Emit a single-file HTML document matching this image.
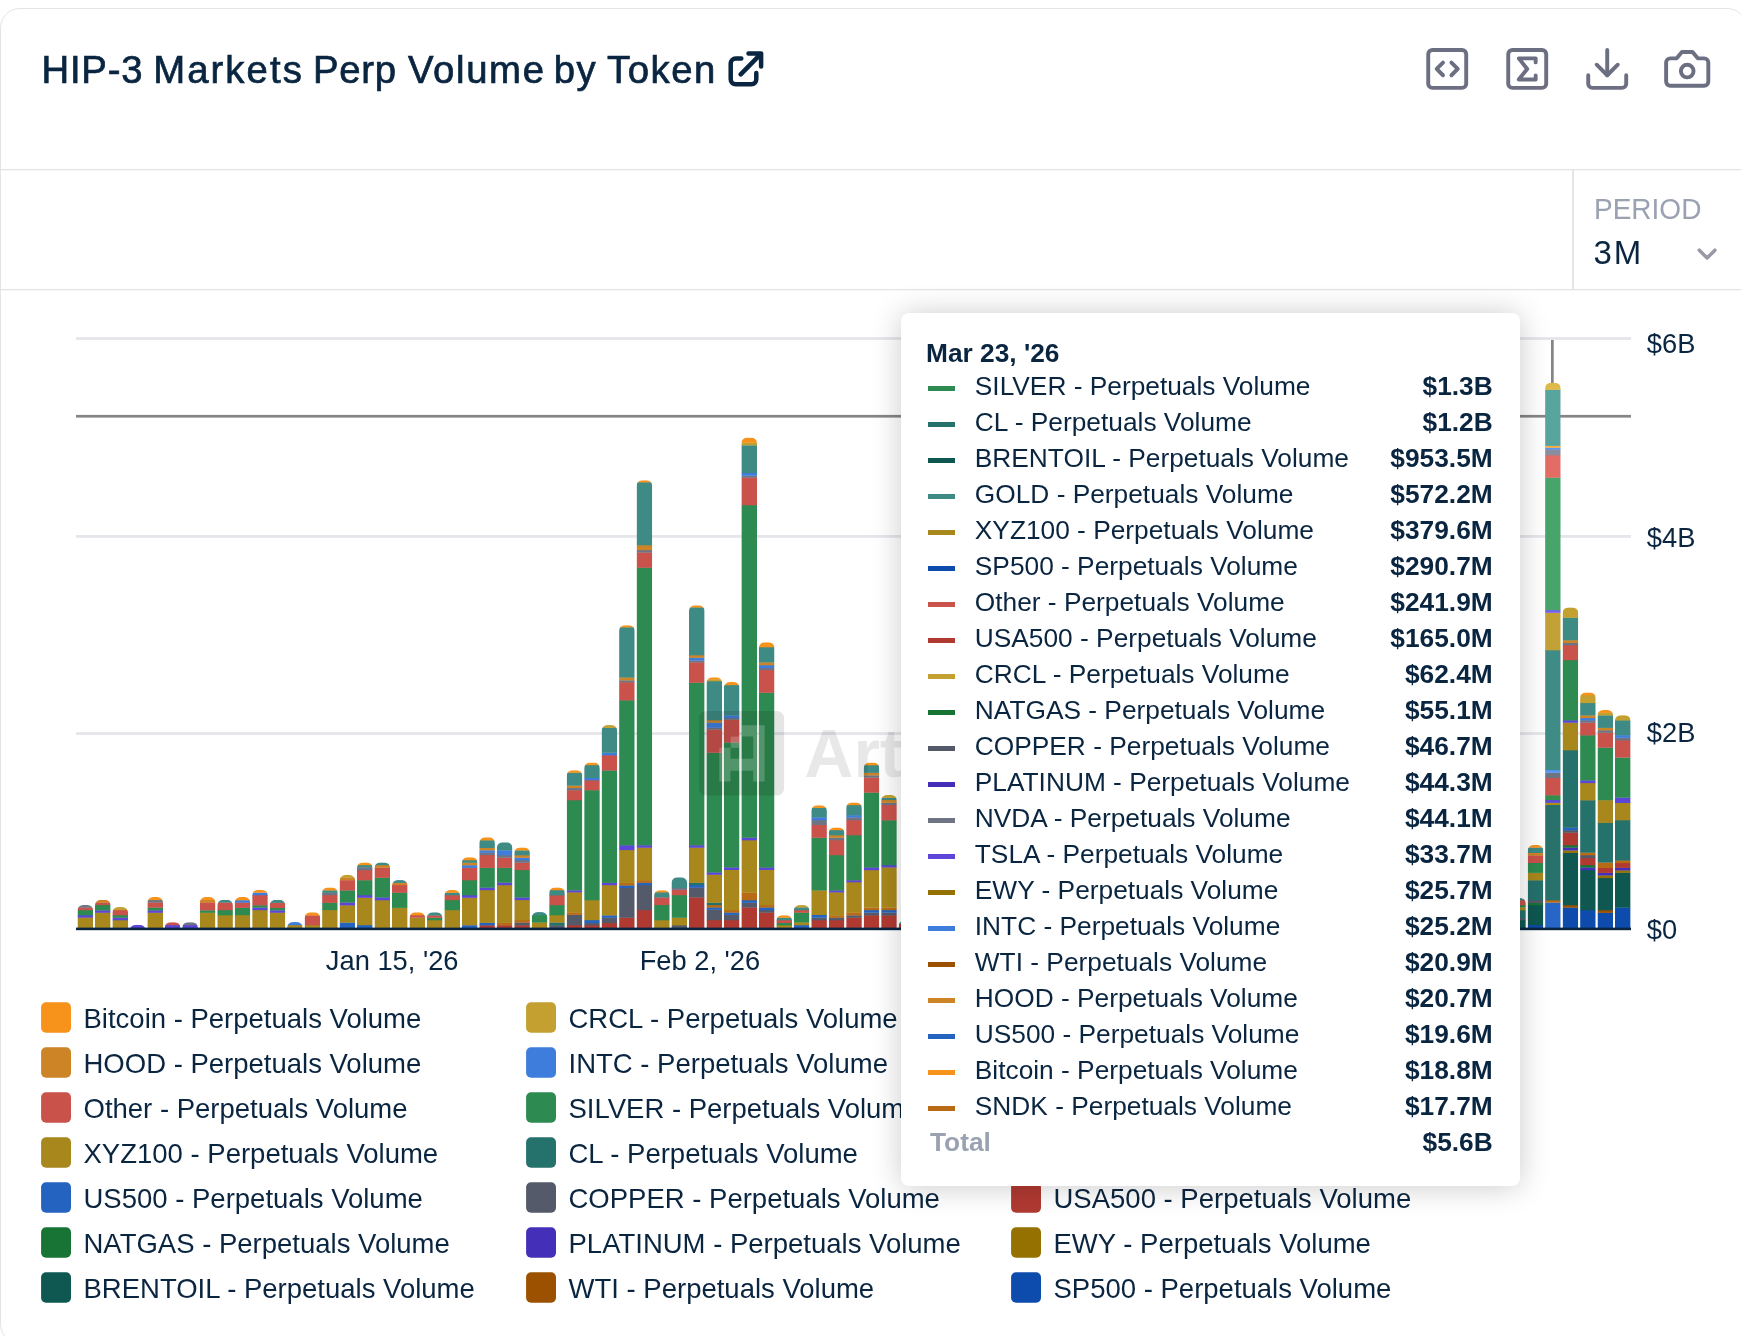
<!DOCTYPE html>
<html lang="en">
<head>
<meta charset="utf-8">
<title>HIP-3 Markets Perp Volume by Token</title>
<style>
*{box-sizing:border-box;margin:0;padding:0}
html,body{width:1741px;height:1336px;overflow:hidden;background:#fff}
body{position:relative;font-family:"Liberation Sans",sans-serif;color:#0a2540}
.card{position:absolute;left:0;top:8px;width:1747px;height:1336px;border:1px solid #e4e4e7;border-radius:20px}
.title{position:absolute;left:0;top:44.5px;width:800px;height:50px;font-size:38.3px;line-height:50px;white-space:nowrap;color:#0a2540;-webkit-text-stroke:0.7px #0a2540}
.title span{position:absolute;top:0}
.period-l{position:absolute;left:1594px;top:192px;transform:scaleY(1.07);font-size:28px;line-height:34px;color:#9aa1b1;white-space:nowrap}
.period-v{position:absolute;left:1593.5px;top:233.5px;font-size:33px;line-height:38px;color:#0a2540;white-space:nowrap;letter-spacing:2px}
#root{position:absolute;left:0;top:0;width:1741px;height:1336px;will-change:transform}
svg.main{position:absolute;left:0;top:0}
.lg{position:absolute;height:30px;display:flex;align-items:center;white-space:nowrap}
.lg i{display:block;width:30px;height:30px;flex:none}
.lg span{font-size:27.5px;line-height:30px;margin-left:12.5px;color:#0a2540;position:relative;top:1px}
.tt{position:absolute;left:901px;top:313px;width:619px;height:873px;background:#fff;border-radius:8px;box-shadow:0 1px 30px rgba(0,0,0,.21)}
.tt .hd{position:absolute;left:25px;top:22px;font-size:26.3px;line-height:36px;font-weight:700;white-space:nowrap}
.tt .rows{position:absolute;left:0;top:55px;width:619px}
.tr{position:relative;height:36px;line-height:36px;font-size:26.3px;white-space:nowrap}
.tr i{position:absolute;left:27px;top:18px;width:26.6px;height:5px;display:block}
.tr .n{position:absolute;left:73.8px;top:0}
.tr b{position:absolute;right:27.3px;top:0;font-weight:700}
.tr.tot .n{left:29px;font-weight:700;color:#9aa1b1}
</style>
</head>
<body>
<div id="root">
<div class="card"></div>
<div class="title"><span style="left:41.5px;letter-spacing:0.77px">HIP-3</span> <span style="left:153.2px;letter-spacing:2.07px">Markets</span> <span style="left:313px;letter-spacing:0.74px">Perp</span> <span style="left:407.9px;letter-spacing:1.67px">Volume</span> <span style="left:553.8px;letter-spacing:1.47px">by</span> <span style="left:607.0px;letter-spacing:1.54px">Token</span> </div>
<div class="period-l">PERIOD</div>
<div class="period-v">3M</div>

<div class="lg" style="left:41px;top:1002.5px"><i></i><span>Bitcoin - Perpetuals Volume</span></div>
<div class="lg" style="left:526px;top:1002.5px"><i></i><span>CRCL - Perpetuals Volume</span></div>
<div class="lg" style="left:1011px;top:1002.5px"><i></i><span>GOLD - Perpetuals Volume</span></div>
<div class="lg" style="left:41px;top:1047.5px"><i></i><span>HOOD - Perpetuals Volume</span></div>
<div class="lg" style="left:526px;top:1047.5px"><i></i><span>INTC - Perpetuals Volume</span></div>
<div class="lg" style="left:1011px;top:1047.5px"><i></i><span>NVDA - Perpetuals Volume</span></div>
<div class="lg" style="left:41px;top:1092.5px"><i></i><span>Other - Perpetuals Volume</span></div>
<div class="lg" style="left:526px;top:1092.5px"><i></i><span>SILVER - Perpetuals Volume</span></div>
<div class="lg" style="left:1011px;top:1092.5px"><i></i><span>TSLA - Perpetuals Volume</span></div>
<div class="lg" style="left:41px;top:1137.5px"><i></i><span>XYZ100 - Perpetuals Volume</span></div>
<div class="lg" style="left:526px;top:1137.5px"><i></i><span>CL - Perpetuals Volume</span></div>
<div class="lg" style="left:1011px;top:1137.5px"><i></i><span>SNDK - Perpetuals Volume</span></div>
<div class="lg" style="left:41px;top:1182.5px"><i></i><span>US500 - Perpetuals Volume</span></div>
<div class="lg" style="left:526px;top:1182.5px"><i></i><span>COPPER - Perpetuals Volume</span></div>
<div class="lg" style="left:1011px;top:1182.5px"><i></i><span>USA500 - Perpetuals Volume</span></div>
<div class="lg" style="left:41px;top:1227.5px"><i></i><span>NATGAS - Perpetuals Volume</span></div>
<div class="lg" style="left:526px;top:1227.5px"><i></i><span>PLATINUM - Perpetuals Volume</span></div>
<div class="lg" style="left:1011px;top:1227.5px"><i></i><span>EWY - Perpetuals Volume</span></div>
<div class="lg" style="left:41px;top:1272.5px"><i></i><span>BRENTOIL - Perpetuals Volume</span></div>
<div class="lg" style="left:526px;top:1272.5px"><i></i><span>WTI - Perpetuals Volume</span></div>
<div class="lg" style="left:1011px;top:1272.5px"><i></i><span>SP500 - Perpetuals Volume</span></div>

<svg class="main" width="1741" height="1336" viewBox="0 0 1741 1336">
<defs>
<clipPath id="c0"><path d="M77.5 930V910.5A5.6 5.6 0 0 1 83.1 904.9H87.5A5.6 5.6 0 0 1 93.1 910.5V930Z"/></clipPath>
<clipPath id="c1"><path d="M95 930V905.4A5.6 5.6 0 0 1 100.6 899.8H105A5.6 5.6 0 0 1 110.6 905.4V930Z"/></clipPath>
<clipPath id="c2"><path d="M112.4 930V912.7A5.6 5.6 0 0 1 118 907.1H122.4A5.6 5.6 0 0 1 128 912.7V930Z"/></clipPath>
<clipPath id="c3"><path d="M129.9 930V930A5.9 5.2 0 0 1 135.8 924.8H139.6A5.9 5.2 0 0 1 145.5 930V930Z"/></clipPath>
<clipPath id="c4"><path d="M147.4 930V902.6A5.6 5.6 0 0 1 153 897H157.4A5.6 5.6 0 0 1 163 902.6V930Z"/></clipPath>
<clipPath id="c5"><path d="M164.8 930V927.8A5.6 5.6 0 0 1 170.4 922.2H174.8A5.6 5.6 0 0 1 180.4 927.8V930Z"/></clipPath>
<clipPath id="c6"><path d="M182.3 930V927.8A5.6 5.6 0 0 1 187.9 922.2H192.3A5.6 5.6 0 0 1 197.9 927.8V930Z"/></clipPath>
<clipPath id="c7"><path d="M199.8 930V902.6A5.6 5.6 0 0 1 205.4 897H209.8A5.6 5.6 0 0 1 215.4 902.6V930Z"/></clipPath>
<clipPath id="c8"><path d="M217.3 930V905.4A5.6 5.6 0 0 1 222.9 899.8H227.3A5.6 5.6 0 0 1 232.9 905.4V930Z"/></clipPath>
<clipPath id="c9"><path d="M234.7 930V902.6A5.6 5.6 0 0 1 240.3 897H244.7A5.6 5.6 0 0 1 250.3 902.6V930Z"/></clipPath>
<clipPath id="c10"><path d="M252.2 930V895.5A5.6 5.6 0 0 1 257.8 889.9H262.2A5.6 5.6 0 0 1 267.8 895.5V930Z"/></clipPath>
<clipPath id="c11"><path d="M269.7 930V905.4A5.6 5.6 0 0 1 275.3 899.8H279.7A5.6 5.6 0 0 1 285.3 905.4V930Z"/></clipPath>
<clipPath id="c12"><path d="M287.1 930V927.7A5.6 5.6 0 0 1 292.7 922.1H297.1A5.6 5.6 0 0 1 302.7 927.7V930Z"/></clipPath>
<clipPath id="c13"><path d="M304.6 930V917.9A5.6 5.6 0 0 1 310.2 912.3H314.6A5.6 5.6 0 0 1 320.2 917.9V930Z"/></clipPath>
<clipPath id="c14"><path d="M322.1 930V893A5.6 5.6 0 0 1 327.7 887.4H332.1A5.6 5.6 0 0 1 337.7 893V930Z"/></clipPath>
<clipPath id="c15"><path d="M339.6 930V880.6A5.6 5.6 0 0 1 345.2 875H349.6A5.6 5.6 0 0 1 355.2 880.6V930Z"/></clipPath>
<clipPath id="c16"><path d="M357 930V868A5.6 5.6 0 0 1 362.6 862.4H367A5.6 5.6 0 0 1 372.6 868V930Z"/></clipPath>
<clipPath id="c17"><path d="M374.5 930V868A5.6 5.6 0 0 1 380.1 862.4H384.5A5.6 5.6 0 0 1 390.1 868V930Z"/></clipPath>
<clipPath id="c18"><path d="M392 930V885.7A5.6 5.6 0 0 1 397.6 880.1H402A5.6 5.6 0 0 1 407.6 885.7V930Z"/></clipPath>
<clipPath id="c19"><path d="M409.5 930V917.9A5.6 5.6 0 0 1 415.1 912.3H419.5A5.6 5.6 0 0 1 425.1 917.9V930Z"/></clipPath>
<clipPath id="c20"><path d="M426.9 930V917.9A5.6 5.6 0 0 1 432.5 912.3H436.9A5.6 5.6 0 0 1 442.5 917.9V930Z"/></clipPath>
<clipPath id="c21"><path d="M444.4 930V895.6A5.6 5.6 0 0 1 450 890H454.4A5.6 5.6 0 0 1 460 895.6V930Z"/></clipPath>
<clipPath id="c22"><path d="M461.9 930V862.8A5.6 5.6 0 0 1 467.5 857.2H471.9A5.6 5.6 0 0 1 477.5 862.8V930Z"/></clipPath>
<clipPath id="c23"><path d="M479.3 930V842.9A5.6 5.6 0 0 1 484.9 837.3H489.3A5.6 5.6 0 0 1 494.9 842.9V930Z"/></clipPath>
<clipPath id="c24"><path d="M496.8 930V847.9A5.6 5.6 0 0 1 502.4 842.3H506.8A5.6 5.6 0 0 1 512.4 847.9V930Z"/></clipPath>
<clipPath id="c25"><path d="M514.3 930V853A5.6 5.6 0 0 1 519.9 847.4H524.3A5.6 5.6 0 0 1 529.9 853V930Z"/></clipPath>
<clipPath id="c26"><path d="M531.8 930V917.7A5.6 5.6 0 0 1 537.4 912.1H541.8A5.6 5.6 0 0 1 547.4 917.7V930Z"/></clipPath>
<clipPath id="c27"><path d="M549.2 930V893A5.6 5.6 0 0 1 554.8 887.4H559.2A5.6 5.6 0 0 1 564.8 893V930Z"/></clipPath>
<clipPath id="c28"><path d="M566.7 930V775.8A5.6 5.6 0 0 1 572.3 770.2H576.7A5.6 5.6 0 0 1 582.3 775.8V930Z"/></clipPath>
<clipPath id="c29"><path d="M584.2 930V768.2A5.6 5.6 0 0 1 589.8 762.6H594.2A5.6 5.6 0 0 1 599.8 768.2V930Z"/></clipPath>
<clipPath id="c30"><path d="M601.6 930V730.7A5.6 5.6 0 0 1 607.2 725.1H611.6A5.6 5.6 0 0 1 617.2 730.7V930Z"/></clipPath>
<clipPath id="c31"><path d="M619.1 930V630.8A5.6 5.6 0 0 1 624.7 625.2H629.1A5.6 5.6 0 0 1 634.7 630.8V930Z"/></clipPath>
<clipPath id="c32"><path d="M636.6 930V485.8A5.6 5.6 0 0 1 642.2 480.2H646.6A5.6 5.6 0 0 1 652.2 485.8V930Z"/></clipPath>
<clipPath id="c33"><path d="M654.1 930V895.8A5.6 5.6 0 0 1 659.7 890.2H664.1A5.6 5.6 0 0 1 669.7 895.8V930Z"/></clipPath>
<clipPath id="c34"><path d="M671.5 930V882.9A5.6 5.6 0 0 1 677.1 877.3H681.5A5.6 5.6 0 0 1 687.1 882.9V930Z"/></clipPath>
<clipPath id="c35"><path d="M689 930V610.9A5.6 5.6 0 0 1 694.6 605.3H699A5.6 5.6 0 0 1 704.6 610.9V930Z"/></clipPath>
<clipPath id="c36"><path d="M706.5 930V682.9A5.6 5.6 0 0 1 712.1 677.3H716.5A5.6 5.6 0 0 1 722.1 682.9V930Z"/></clipPath>
<clipPath id="c37"><path d="M723.9 930V687.6A5.6 5.6 0 0 1 729.5 682H733.9A5.6 5.6 0 0 1 739.5 687.6V930Z"/></clipPath>
<clipPath id="c38"><path d="M741.4 930V443.2A5.6 5.6 0 0 1 747 437.6H751.4A5.6 5.6 0 0 1 757 443.2V930Z"/></clipPath>
<clipPath id="c39"><path d="M758.9 930V647.9A5.6 5.6 0 0 1 764.5 642.3H768.9A5.6 5.6 0 0 1 774.5 647.9V930Z"/></clipPath>
<clipPath id="c40"><path d="M776.4 930V920.8A5.6 5.6 0 0 1 782 915.2H786.4A5.6 5.6 0 0 1 792 920.8V930Z"/></clipPath>
<clipPath id="c41"><path d="M793.8 930V910.7A5.6 5.6 0 0 1 799.4 905.1H803.8A5.6 5.6 0 0 1 809.4 910.7V930Z"/></clipPath>
<clipPath id="c42"><path d="M811.3 930V810.9A5.6 5.6 0 0 1 816.9 805.3H821.3A5.6 5.6 0 0 1 826.9 810.9V930Z"/></clipPath>
<clipPath id="c43"><path d="M828.8 930V833A5.6 5.6 0 0 1 834.4 827.4H838.8A5.6 5.6 0 0 1 844.4 833V930Z"/></clipPath>
<clipPath id="c44"><path d="M846.2 930V808A5.6 5.6 0 0 1 851.9 802.4H856.2A5.6 5.6 0 0 1 861.9 808V930Z"/></clipPath>
<clipPath id="c45"><path d="M863.7 930V768.1A5.6 5.6 0 0 1 869.3 762.5H873.7A5.6 5.6 0 0 1 879.3 768.1V930Z"/></clipPath>
<clipPath id="c46"><path d="M881.2 930V800.5A5.6 5.6 0 0 1 886.8 794.9H891.2A5.6 5.6 0 0 1 896.8 800.5V930Z"/></clipPath>
<clipPath id="c47"><path d="M898.7 930V926A5.6 5.6 0 0 1 904.3 920.4H908.7A5.6 5.6 0 0 1 914.3 926V930Z"/></clipPath>
<clipPath id="c82"><path d="M1510.2 930V903.5A5.6 5.6 0 0 1 1515.8 897.9H1520.2A5.6 5.6 0 0 1 1525.8 903.5V930Z"/></clipPath>
<clipPath id="c83"><path d="M1527.7 930V850.6A5.6 5.6 0 0 1 1533.3 845H1537.7A5.6 5.6 0 0 1 1543.3 850.6V930Z"/></clipPath>
<clipPath id="c84"><path d="M1545.1 930V388.3A5.6 5.6 0 0 1 1550.7 382.7H1555.1A5.6 5.6 0 0 1 1560.7 388.3V930Z"/></clipPath>
<clipPath id="c85"><path d="M1562.6 930V613A5.6 5.6 0 0 1 1568.2 607.4H1572.6A5.6 5.6 0 0 1 1578.2 613V930Z"/></clipPath>
<clipPath id="c86"><path d="M1580.1 930V698A5.6 5.6 0 0 1 1585.7 692.4H1590.1A5.6 5.6 0 0 1 1595.7 698V930Z"/></clipPath>
<clipPath id="c87"><path d="M1597.5 930V715.5A5.6 5.6 0 0 1 1603.1 709.9H1607.5A5.6 5.6 0 0 1 1613.1 715.5V930Z"/></clipPath>
<clipPath id="c88"><path d="M1615 930V720.8A5.6 5.6 0 0 1 1620.6 715.2H1625A5.6 5.6 0 0 1 1630.6 720.8V930Z"/></clipPath>
</defs>
<!-- header separators -->
<rect x="1" y="169" width="1740" height="1.3" fill="#e4e4e5"/>
<rect x="1" y="289" width="1740" height="1.3" fill="#e4e4e5"/>
<rect x="1572.1" y="170" width="1.8" height="119.5" fill="#e3e3e5"/>
<!-- external-link icon -->
<g fill="none" stroke="#0a2540" stroke-width="4.5" stroke-linecap="round" stroke-linejoin="round">
<path d="M741.3 58.6H735.7a5 5 0 0 0-5 5V79.3a5 5 0 0 0 5 5H751.3a5 5 0 0 0 5-5V73.1M740.7 74.3L761.1 53.6M748.5 53.6H761.1V66.5"/>
</g>
<!-- toolbar icons (lucide-like) -->
<g fill="none" stroke="#6c6e82" stroke-width="1.85" stroke-linecap="round" stroke-linejoin="round">
<g transform="translate(1421.9 43.6) scale(2.11)"><path d="m10 9-3 3 3 3"/><path d="m14 15 3-3-3-3"/><rect x="3" y="3" width="18" height="18" rx="2"/></g>
<g transform="translate(1501.9 43.6) scale(2.11)"><rect x="3" y="3" width="18" height="18" rx="2"/><path d="M16 8.9V7H8l4 5-4 5h8v-1.9"/></g>
<g transform="translate(1581.9 43.6) scale(2.11)"><path d="M21 15v4a2 2 0 0 1-2 2H5a2 2 0 0 1-2-2v-4"/><path d="M7 10l5 5 5-5"/><path d="M12 15V3"/></g>
<g transform="translate(1661.9 43.6) scale(2.11)"><path d="M14.5 4h-5L7 7H4a2 2 0 0 0-2 2v9a2 2 0 0 0 2 2h16a2 2 0 0 0 2-2V9a2 2 0 0 0-2-2h-3l-2.5-3z"/><circle cx="12" cy="13" r="3"/></g>
</g>
<!-- chevron -->
<path d="M1699.3 250.2L1707.1 258L1714.9 250.2" fill="none" stroke="#9a98a6" stroke-width="3.5" stroke-linecap="round" stroke-linejoin="round"/>
<!-- gridlines -->
<rect x="76" y="337.15" width="1555" height="2.8" fill="#e5e6eb"/>
<rect x="76" y="535" width="1555" height="2.8" fill="#e5e6eb"/>
<rect x="76" y="732.15" width="1555" height="2.8" fill="#e5e6eb"/>
<!-- crosshair -->
<rect x="76" y="414.9" width="1555" height="2.7" fill="#858585"/>
<rect x="1551" y="340" width="2.7" height="44" fill="#858585"/>
<!-- bars -->
<g clip-path="url(#c0)"><rect x="77.5" y="917.2" width="15.6" height="13.1" fill="#A8871C"/><rect x="77.5" y="915" width="15.6" height="2.6" fill="#5B46D8"/><rect x="77.5" y="909.9" width="15.6" height="5.4" fill="#2D8A50"/><rect x="77.5" y="907.4" width="15.6" height="2.8" fill="#C9524B"/><rect x="77.5" y="904.9" width="15.6" height="2.8" fill="#6E7484"/></g>
<g clip-path="url(#c1)"><rect x="95" y="912.4" width="15.6" height="17.9" fill="#A8871C"/><rect x="95" y="910.2" width="15.6" height="2.6" fill="#5B46D8"/><rect x="95" y="904.9" width="15.6" height="5.6" fill="#2D8A50"/><rect x="95" y="902.3" width="15.6" height="2.8" fill="#C9524B"/><rect x="95" y="899.8" width="15.6" height="2.8" fill="#CC8427"/></g>
<g clip-path="url(#c2)"><rect x="112.4" y="920" width="15.6" height="10.3" fill="#A8871C"/><rect x="112.4" y="917.5" width="15.6" height="2.8" fill="#5B46D8"/><rect x="112.4" y="915" width="15.6" height="2.8" fill="#2D8A50"/><rect x="112.4" y="909.9" width="15.6" height="5.4" fill="#C9524B"/><rect x="112.4" y="907.1" width="15.6" height="3.1" fill="#C4A030"/></g>
<g clip-path="url(#c3)"><rect x="129.9" y="924.8" width="15.6" height="5.5" fill="#5B46D8"/></g>
<g clip-path="url(#c4)"><rect x="147.4" y="912.4" width="15.6" height="17.9" fill="#A8871C"/><rect x="147.4" y="910.2" width="15.6" height="2.6" fill="#5B46D8"/><rect x="147.4" y="907.4" width="15.6" height="3.1" fill="#2D8A50"/><rect x="147.4" y="902.3" width="15.6" height="5.4" fill="#C9524B"/><rect x="147.4" y="899.8" width="15.6" height="2.8" fill="#6E7484"/><rect x="147.4" y="897" width="15.6" height="3.1" fill="#F7931A"/></g>
<g clip-path="url(#c5)"><rect x="164.8" y="924.8" width="15.6" height="5.5" fill="#5B46D8"/><rect x="164.8" y="922.2" width="15.6" height="3" fill="#C9524B"/></g>
<g clip-path="url(#c6)"><rect x="182.3" y="924.8" width="15.6" height="5.5" fill="#5B46D8"/><rect x="182.3" y="922.2" width="15.6" height="3" fill="#6E7484"/></g>
<g clip-path="url(#c7)"><rect x="199.8" y="912.4" width="15.6" height="17.9" fill="#A8871C"/><rect x="199.8" y="910.2" width="15.6" height="2.6" fill="#2D8A50"/><rect x="199.8" y="902.3" width="15.6" height="8.1" fill="#C9524B"/><rect x="199.8" y="899.8" width="15.6" height="2.8" fill="#CC8427"/><rect x="199.8" y="897" width="15.6" height="3.1" fill="#F7931A"/></g>
<g clip-path="url(#c8)"><rect x="217.3" y="915" width="15.6" height="15.3" fill="#A8871C"/><rect x="217.3" y="909.9" width="15.6" height="5.4" fill="#2D8A50"/><rect x="217.3" y="902.3" width="15.6" height="7.9" fill="#C9524B"/><rect x="217.3" y="899.8" width="15.6" height="2.8" fill="#3E8A85"/></g>
<g clip-path="url(#c9)"><rect x="234.7" y="915" width="15.6" height="15.3" fill="#A8871C"/><rect x="234.7" y="907.6" width="15.6" height="7.6" fill="#2D8A50"/><rect x="234.7" y="902.3" width="15.6" height="5.6" fill="#C9524B"/><rect x="234.7" y="900.1" width="15.6" height="2.6" fill="#3E7DDB"/><rect x="234.7" y="897" width="15.6" height="3.3" fill="#F7931A"/></g>
<g clip-path="url(#c10)"><rect x="252.2" y="909.9" width="15.6" height="20.4" fill="#A8871C"/><rect x="252.2" y="907.4" width="15.6" height="2.8" fill="#5B46D8"/><rect x="252.2" y="905.1" width="15.6" height="2.6" fill="#2D8A50"/><rect x="252.2" y="895" width="15.6" height="10.4" fill="#C9524B"/><rect x="252.2" y="892.5" width="15.6" height="2.8" fill="#3E7DDB"/><rect x="252.2" y="889.9" width="15.6" height="2.8" fill="#F7931A"/></g>
<g clip-path="url(#c11)"><rect x="269.7" y="912.4" width="15.6" height="17.9" fill="#A8871C"/><rect x="269.7" y="910.2" width="15.6" height="2.6" fill="#5B46D8"/><rect x="269.7" y="907.6" width="15.6" height="2.8" fill="#2D8A50"/><rect x="269.7" y="902.6" width="15.6" height="5.4" fill="#C9524B"/><rect x="269.7" y="899.8" width="15.6" height="3.1" fill="#3E8A85"/></g>
<g clip-path="url(#c12)"><rect x="287.1" y="924.9" width="15.6" height="5.4" fill="#A8871C"/><rect x="287.1" y="922.1" width="15.6" height="3.1" fill="#3E7DDB"/></g>
<g clip-path="url(#c13)"><rect x="304.6" y="924.9" width="15.6" height="5.4" fill="#A8871C"/><rect x="304.6" y="915.2" width="15.6" height="10" fill="#C9524B"/><rect x="304.6" y="912.3" width="15.6" height="3.2" fill="#F7931A"/></g>
<g clip-path="url(#c14)"><rect x="322.1" y="909.9" width="15.6" height="20.4" fill="#A8871C"/><rect x="322.1" y="902.5" width="15.6" height="7.6" fill="#2D8A50"/><rect x="322.1" y="895" width="15.6" height="7.9" fill="#C9524B"/><rect x="322.1" y="892.4" width="15.6" height="2.8" fill="#6E7484"/><rect x="322.1" y="890.2" width="15.6" height="2.6" fill="#3E8A85"/><rect x="322.1" y="887.4" width="15.6" height="3.1" fill="#F7931A"/></g>
<g clip-path="url(#c15)"><rect x="339.6" y="922.4" width="15.6" height="7.9" fill="#2463C0"/><rect x="339.6" y="905.1" width="15.6" height="17.6" fill="#A8871C"/><rect x="339.6" y="902.3" width="15.6" height="3.1" fill="#5B46D8"/><rect x="339.6" y="890.2" width="15.6" height="12.4" fill="#2D8A50"/><rect x="339.6" y="880.1" width="15.6" height="10.4" fill="#C9524B"/><rect x="339.6" y="877.5" width="15.6" height="2.8" fill="#CC8427"/><rect x="339.6" y="875" width="15.6" height="2.8" fill="#C4A030"/></g>
<g clip-path="url(#c16)"><rect x="357" y="924.9" width="15.6" height="5.4" fill="#2463C0"/><rect x="357" y="897.5" width="15.6" height="27.7" fill="#A8871C"/><rect x="357" y="895" width="15.6" height="2.8" fill="#5B46D8"/><rect x="357" y="880.1" width="15.6" height="15.2" fill="#2D8A50"/><rect x="357" y="869.9" width="15.6" height="10.4" fill="#C9524B"/><rect x="357" y="867.2" width="15.6" height="3.1" fill="#6E7484"/><rect x="357" y="864.9" width="15.6" height="2.6" fill="#3E8A85"/><rect x="357" y="862.4" width="15.6" height="2.8" fill="#F7931A"/></g>
<g clip-path="url(#c17)"><rect x="374.5" y="900" width="15.6" height="30.3" fill="#A8871C"/><rect x="374.5" y="897.2" width="15.6" height="3.1" fill="#5B46D8"/><rect x="374.5" y="877.5" width="15.6" height="20" fill="#2D8A50"/><rect x="374.5" y="867.4" width="15.6" height="10.4" fill="#C9524B"/><rect x="374.5" y="864.9" width="15.6" height="2.8" fill="#CC8427"/><rect x="374.5" y="862.4" width="15.6" height="2.8" fill="#3E8A85"/></g>
<g clip-path="url(#c18)"><rect x="392" y="907.6" width="15.6" height="22.7" fill="#A8871C"/><rect x="392" y="892.4" width="15.6" height="15.5" fill="#2D8A50"/><rect x="392" y="884.9" width="15.6" height="7.9" fill="#C9524B"/><rect x="392" y="882.6" width="15.6" height="2.6" fill="#CC8427"/><rect x="392" y="880.1" width="15.6" height="2.8" fill="#3E8A85"/></g>
<g clip-path="url(#c19)"><rect x="409.5" y="917.5" width="15.6" height="12.8" fill="#A8871C"/><rect x="409.5" y="914.9" width="15.6" height="2.8" fill="#C9524B"/><rect x="409.5" y="912.3" width="15.6" height="3" fill="#F7931A"/></g>
<g clip-path="url(#c20)"><rect x="426.9" y="920" width="15.6" height="10.3" fill="#A8871C"/><rect x="426.9" y="917.5" width="15.6" height="2.8" fill="#2D8A50"/><rect x="426.9" y="915.2" width="15.6" height="2.6" fill="#C9524B"/><rect x="426.9" y="912.3" width="15.6" height="3.2" fill="#3E8A85"/></g>
<g clip-path="url(#c21)"><rect x="444.4" y="909.9" width="15.6" height="20.4" fill="#A8871C"/><rect x="444.4" y="899.8" width="15.6" height="10.4" fill="#2D8A50"/><rect x="444.4" y="895" width="15.6" height="5.1" fill="#C9524B"/><rect x="444.4" y="892.5" width="15.6" height="2.8" fill="#3E8A85"/><rect x="444.4" y="890" width="15.6" height="2.8" fill="#F7931A"/></g>
<g clip-path="url(#c22)"><rect x="461.9" y="925.1" width="15.6" height="5.2" fill="#2463C0"/><rect x="461.9" y="897.5" width="15.6" height="27.8" fill="#A8871C"/><rect x="461.9" y="895" width="15.6" height="2.8" fill="#5B46D8"/><rect x="461.9" y="880" width="15.6" height="15.3" fill="#2D8A50"/><rect x="461.9" y="867.6" width="15.6" height="12.7" fill="#C9524B"/><rect x="461.9" y="865.1" width="15.6" height="2.8" fill="#3E7DDB"/><rect x="461.9" y="862.5" width="15.6" height="2.8" fill="#CC8427"/><rect x="461.9" y="860" width="15.6" height="2.8" fill="#3E8A85"/><rect x="461.9" y="857.2" width="15.6" height="3.1" fill="#F7931A"/></g>
<g clip-path="url(#c23)"><rect x="479.3" y="925.1" width="15.6" height="5.2" fill="#B03A32"/><rect x="479.3" y="922.6" width="15.6" height="2.8" fill="#2463C0"/><rect x="479.3" y="890" width="15.6" height="32.9" fill="#A8871C"/><rect x="479.3" y="887.4" width="15.6" height="2.8" fill="#5B46D8"/><rect x="479.3" y="867.6" width="15.6" height="20.1" fill="#2D8A50"/><rect x="479.3" y="855" width="15.6" height="12.9" fill="#C9524B"/><rect x="479.3" y="852.4" width="15.6" height="2.8" fill="#6E7484"/><rect x="479.3" y="850.2" width="15.6" height="2.6" fill="#3E7DDB"/><rect x="479.3" y="847.6" width="15.6" height="2.8" fill="#CC8427"/><rect x="479.3" y="840.1" width="15.6" height="7.9" fill="#3E8A85"/><rect x="479.3" y="837.3" width="15.6" height="3.1" fill="#F7931A"/></g>
<g clip-path="url(#c24)"><rect x="496.8" y="925.1" width="15.6" height="5.2" fill="#B03A32"/><rect x="496.8" y="922.6" width="15.6" height="2.8" fill="#B86A14"/><rect x="496.8" y="884.9" width="15.6" height="38" fill="#A8871C"/><rect x="496.8" y="882.4" width="15.6" height="2.8" fill="#5B46D8"/><rect x="496.8" y="867.6" width="15.6" height="15.1" fill="#2D8A50"/><rect x="496.8" y="857.5" width="15.6" height="10.4" fill="#C9524B"/><rect x="496.8" y="855" width="15.6" height="2.8" fill="#6E7484"/><rect x="496.8" y="850.2" width="15.6" height="5.1" fill="#3E7DDB"/><rect x="496.8" y="842.3" width="15.6" height="8.1" fill="#3E8A85"/></g>
<g clip-path="url(#c25)"><rect x="514.3" y="925.1" width="15.6" height="5.2" fill="#B03A32"/><rect x="514.3" y="922.3" width="15.6" height="3.1" fill="#545A6A"/><rect x="514.3" y="920" width="15.6" height="2.6" fill="#B86A14"/><rect x="514.3" y="899.8" width="15.6" height="20.5" fill="#A8871C"/><rect x="514.3" y="897.3" width="15.6" height="2.8" fill="#5B46D8"/><rect x="514.3" y="869.9" width="15.6" height="27.7" fill="#2D8A50"/><rect x="514.3" y="862.5" width="15.6" height="7.6" fill="#C9524B"/><rect x="514.3" y="860" width="15.6" height="2.8" fill="#6E7484"/><rect x="514.3" y="857.5" width="15.6" height="2.8" fill="#3E7DDB"/><rect x="514.3" y="855" width="15.6" height="2.8" fill="#CC8427"/><rect x="514.3" y="850.2" width="15.6" height="5.1" fill="#3E8A85"/><rect x="514.3" y="847.4" width="15.6" height="3.1" fill="#F7931A"/></g>
<g clip-path="url(#c26)"><rect x="531.8" y="922.3" width="15.6" height="8" fill="#A8871C"/><rect x="531.8" y="915" width="15.6" height="7.6" fill="#2D8A50"/><rect x="531.8" y="912.1" width="15.6" height="3.2" fill="#3E8A85"/></g>
<g clip-path="url(#c27)"><rect x="549.2" y="925.1" width="15.6" height="5.2" fill="#545A6A"/><rect x="549.2" y="922.3" width="15.6" height="3.1" fill="#25716C"/><rect x="549.2" y="915" width="15.6" height="7.6" fill="#A8871C"/><rect x="549.2" y="904.9" width="15.6" height="10.4" fill="#2D8A50"/><rect x="549.2" y="895" width="15.6" height="10.2" fill="#C9524B"/><rect x="549.2" y="890" width="15.6" height="5.4" fill="#3E8A85"/><rect x="549.2" y="887.4" width="15.6" height="2.8" fill="#F7931A"/></g>
<g clip-path="url(#c28)"><rect x="566.7" y="925" width="15.6" height="5.3" fill="#B03A32"/><rect x="566.7" y="914.6" width="15.6" height="10.7" fill="#545A6A"/><rect x="566.7" y="912.3" width="15.6" height="2.6" fill="#B86A14"/><rect x="566.7" y="892.1" width="15.6" height="20.6" fill="#A8871C"/><rect x="566.7" y="890.2" width="15.6" height="2.2" fill="#5B46D8"/><rect x="566.7" y="799.9" width="15.6" height="90.5" fill="#2D8A50"/><rect x="566.7" y="790.1" width="15.6" height="10.2" fill="#C9524B"/><rect x="566.7" y="787.6" width="15.6" height="2.8" fill="#6E7484"/><rect x="566.7" y="785.4" width="15.6" height="2.6" fill="#CC8427"/><rect x="566.7" y="772.5" width="15.6" height="13.2" fill="#3E8A85"/><rect x="566.7" y="770.2" width="15.6" height="2.6" fill="#F7931A"/></g>
<g clip-path="url(#c29)"><rect x="584.2" y="925" width="15.6" height="5.3" fill="#B03A32"/><rect x="584.2" y="922.8" width="15.6" height="2.6" fill="#545A6A"/><rect x="584.2" y="919.9" width="15.6" height="3.1" fill="#2463C0"/><rect x="584.2" y="900" width="15.6" height="20.2" fill="#A8871C"/><rect x="584.2" y="790.1" width="15.6" height="110.2" fill="#2D8A50"/><rect x="584.2" y="780" width="15.6" height="10.3" fill="#C9524B"/><rect x="584.2" y="777.8" width="15.6" height="2.6" fill="#3E7DDB"/><rect x="584.2" y="764.9" width="15.6" height="13.2" fill="#3E8A85"/><rect x="584.2" y="762.6" width="15.6" height="2.6" fill="#F7931A"/></g>
<g clip-path="url(#c30)"><rect x="601.6" y="922.8" width="15.6" height="7.5" fill="#B03A32"/><rect x="601.6" y="917.5" width="15.6" height="5.6" fill="#545A6A"/><rect x="601.6" y="915.2" width="15.6" height="2.6" fill="#2463C0"/><rect x="601.6" y="884.9" width="15.6" height="30.6" fill="#A8871C"/><rect x="601.6" y="882.6" width="15.6" height="2.6" fill="#5B46D8"/><rect x="601.6" y="770.2" width="15.6" height="112.7" fill="#2D8A50"/><rect x="601.6" y="755" width="15.6" height="15.5" fill="#C9524B"/><rect x="601.6" y="752.6" width="15.6" height="2.8" fill="#3E7DDB"/><rect x="601.6" y="727.5" width="15.6" height="25.3" fill="#3E8A85"/><rect x="601.6" y="725.1" width="15.6" height="2.8" fill="#C4A030"/></g>
<g clip-path="url(#c31)"><rect x="619.1" y="917.5" width="15.6" height="12.8" fill="#B03A32"/><rect x="619.1" y="887.7" width="15.6" height="30.1" fill="#545A6A"/><rect x="619.1" y="885.2" width="15.6" height="2.8" fill="#2463C0"/><rect x="619.1" y="882.6" width="15.6" height="3" fill="#B86A14"/><rect x="619.1" y="849.8" width="15.6" height="33.1" fill="#A8871C"/><rect x="619.1" y="845.1" width="15.6" height="5" fill="#5B46D8"/><rect x="619.1" y="700.1" width="15.6" height="145.3" fill="#2D8A50"/><rect x="619.1" y="682.1" width="15.6" height="18.3" fill="#C9524B"/><rect x="619.1" y="680.2" width="15.6" height="2.2" fill="#6E7484"/><rect x="619.1" y="677.3" width="15.6" height="3.1" fill="#CC8427"/><rect x="619.1" y="627.1" width="15.6" height="50.5" fill="#3E8A85"/><rect x="619.1" y="625.2" width="15.6" height="2.2" fill="#F7931A"/></g>
<g clip-path="url(#c32)"><rect x="636.6" y="909.9" width="15.6" height="20.4" fill="#B03A32"/><rect x="636.6" y="884.9" width="15.6" height="25.3" fill="#545A6A"/><rect x="636.6" y="882.6" width="15.6" height="2.6" fill="#2463C0"/><rect x="636.6" y="880.1" width="15.6" height="2.8" fill="#B86A14"/><rect x="636.6" y="847.3" width="15.6" height="33.1" fill="#A8871C"/><rect x="636.6" y="845.1" width="15.6" height="2.6" fill="#5B46D8"/><rect x="636.6" y="567.4" width="15.6" height="277.9" fill="#2D8A50"/><rect x="636.6" y="552.3" width="15.6" height="15.5" fill="#C9524B"/><rect x="636.6" y="550" width="15.6" height="2.6" fill="#6E7484"/><rect x="636.6" y="545" width="15.6" height="5.2" fill="#CC8427"/><rect x="636.6" y="482.1" width="15.6" height="63.2" fill="#3E8A85"/><rect x="636.6" y="480.2" width="15.6" height="2.2" fill="#F7931A"/></g>
<g clip-path="url(#c33)"><rect x="654.1" y="919.9" width="15.6" height="10.4" fill="#A8871C"/><rect x="654.1" y="904.8" width="15.6" height="15.5" fill="#2D8A50"/><rect x="654.1" y="897.2" width="15.6" height="7.9" fill="#C9524B"/><rect x="654.1" y="892.1" width="15.6" height="5.4" fill="#3E8A85"/><rect x="654.1" y="890.2" width="15.6" height="2.2" fill="#F7931A"/></g>
<g clip-path="url(#c34)"><rect x="671.5" y="925" width="15.6" height="5.3" fill="#545A6A"/><rect x="671.5" y="917.5" width="15.6" height="7.9" fill="#A8871C"/><rect x="671.5" y="894.9" width="15.6" height="22.9" fill="#2D8A50"/><rect x="671.5" y="889.6" width="15.6" height="5.6" fill="#C9524B"/><rect x="671.5" y="887.7" width="15.6" height="2.2" fill="#6E7484"/><rect x="671.5" y="877.3" width="15.6" height="10.7" fill="#3E8A85"/></g>
<g clip-path="url(#c35)"><rect x="689" y="897.2" width="15.6" height="33.1" fill="#B03A32"/><rect x="689" y="887.3" width="15.6" height="10.2" fill="#545A6A"/><rect x="689" y="884.9" width="15.6" height="2.8" fill="#2463C0"/><rect x="689" y="882.6" width="15.6" height="2.6" fill="#25716C"/><rect x="689" y="847.3" width="15.6" height="35.6" fill="#A8871C"/><rect x="689" y="845.1" width="15.6" height="2.6" fill="#5B46D8"/><rect x="689" y="682.5" width="15.6" height="162.9" fill="#2D8A50"/><rect x="689" y="662.2" width="15.6" height="20.6" fill="#C9524B"/><rect x="689" y="660.3" width="15.6" height="2.2" fill="#6E7484"/><rect x="689" y="657.4" width="15.6" height="3.1" fill="#3E7DDB"/><rect x="689" y="655" width="15.6" height="2.8" fill="#CC8427"/><rect x="689" y="607.2" width="15.6" height="48.1" fill="#3E8A85"/><rect x="689" y="605.3" width="15.6" height="2.2" fill="#F7931A"/></g>
<g clip-path="url(#c36)"><rect x="706.5" y="919.9" width="15.6" height="10.4" fill="#B03A32"/><rect x="706.5" y="909.5" width="15.6" height="10.7" fill="#545A6A"/><rect x="706.5" y="907.2" width="15.6" height="2.6" fill="#2463C0"/><rect x="706.5" y="904.8" width="15.6" height="2.8" fill="#B86A14"/><rect x="706.5" y="902.5" width="15.6" height="2.6" fill="#25716C"/><rect x="706.5" y="874.4" width="15.6" height="28.4" fill="#A8871C"/><rect x="706.5" y="872.2" width="15.6" height="2.6" fill="#5B46D8"/><rect x="706.5" y="752.6" width="15.6" height="119.9" fill="#2D8A50"/><rect x="706.5" y="729.4" width="15.6" height="23.4" fill="#C9524B"/><rect x="706.5" y="727.5" width="15.6" height="2.2" fill="#6E7484"/><rect x="706.5" y="722.4" width="15.6" height="5.4" fill="#3E7DDB"/><rect x="706.5" y="720" width="15.6" height="2.8" fill="#CC8427"/><rect x="706.5" y="681" width="15.6" height="39.3" fill="#3E8A85"/><rect x="706.5" y="679.2" width="15.6" height="2.1" fill="#C4A030"/><rect x="706.5" y="677.3" width="15.6" height="2.2" fill="#F7931A"/></g>
<g clip-path="url(#c37)"><rect x="723.9" y="919.9" width="15.6" height="10.4" fill="#B03A32"/><rect x="723.9" y="914.6" width="15.6" height="5.6" fill="#545A6A"/><rect x="723.9" y="912.3" width="15.6" height="2.6" fill="#2463C0"/><rect x="723.9" y="909.9" width="15.6" height="2.8" fill="#B86A14"/><rect x="723.9" y="869.7" width="15.6" height="40.5" fill="#A8871C"/><rect x="723.9" y="867.2" width="15.6" height="2.8" fill="#5B46D8"/><rect x="723.9" y="742.3" width="15.6" height="125.2" fill="#2D8A50"/><rect x="723.9" y="719.6" width="15.6" height="23" fill="#C9524B"/><rect x="723.9" y="717.7" width="15.6" height="2.2" fill="#6E7484"/><rect x="723.9" y="715.2" width="15.6" height="2.8" fill="#3E7DDB"/><rect x="723.9" y="684.9" width="15.6" height="30.6" fill="#3E8A85"/><rect x="723.9" y="682" width="15.6" height="3.2" fill="#F7931A"/></g>
<g clip-path="url(#c38)"><rect x="741.4" y="907.2" width="15.6" height="23.1" fill="#B03A32"/><rect x="741.4" y="902.5" width="15.6" height="5" fill="#545A6A"/><rect x="741.4" y="900" width="15.6" height="2.8" fill="#2463C0"/><rect x="741.4" y="892.4" width="15.6" height="7.9" fill="#B86A14"/><rect x="741.4" y="839.9" width="15.6" height="52.8" fill="#A8871C"/><rect x="741.4" y="837.5" width="15.6" height="2.8" fill="#5B46D8"/><rect x="741.4" y="504.9" width="15.6" height="332.9" fill="#2D8A50"/><rect x="741.4" y="477.4" width="15.6" height="27.8" fill="#C9524B"/><rect x="741.4" y="475.5" width="15.6" height="2.2" fill="#6E7484"/><rect x="741.4" y="472.6" width="15.6" height="3.1" fill="#3E7DDB"/><rect x="741.4" y="445.2" width="15.6" height="27.8" fill="#3E8A85"/><rect x="741.4" y="442.3" width="15.6" height="3.1" fill="#C4A030"/><rect x="741.4" y="437.6" width="15.6" height="5" fill="#F7931A"/></g>
<g clip-path="url(#c39)"><rect x="758.9" y="912.3" width="15.6" height="18" fill="#B03A32"/><rect x="758.9" y="909.9" width="15.6" height="2.8" fill="#545A6A"/><rect x="758.9" y="907.2" width="15.6" height="3" fill="#2463C0"/><rect x="758.9" y="904.8" width="15.6" height="2.8" fill="#B86A14"/><rect x="758.9" y="869.7" width="15.6" height="35.4" fill="#A8871C"/><rect x="758.9" y="867.2" width="15.6" height="2.8" fill="#5B46D8"/><rect x="758.9" y="692.5" width="15.6" height="175.1" fill="#2D8A50"/><rect x="758.9" y="669.8" width="15.6" height="23" fill="#C9524B"/><rect x="758.9" y="667.9" width="15.6" height="2.2" fill="#6E7484"/><rect x="758.9" y="665" width="15.6" height="3.1" fill="#3E7DDB"/><rect x="758.9" y="662.2" width="15.6" height="3.1" fill="#CC8427"/><rect x="758.9" y="647" width="15.6" height="15.5" fill="#3E8A85"/><rect x="758.9" y="642.3" width="15.6" height="5" fill="#F7931A"/></g>
<g clip-path="url(#c40)"><rect x="776.4" y="925" width="15.6" height="5.3" fill="#A8871C"/><rect x="776.4" y="922.8" width="15.6" height="2.6" fill="#2D8A50"/><rect x="776.4" y="919.9" width="15.6" height="3.1" fill="#C9524B"/><rect x="776.4" y="917.5" width="15.6" height="2.8" fill="#3E8A85"/><rect x="776.4" y="915.2" width="15.6" height="2.6" fill="#F7931A"/></g>
<g clip-path="url(#c41)"><rect x="793.8" y="925" width="15.6" height="5.3" fill="#2463C0"/><rect x="793.8" y="922.2" width="15.6" height="3.1" fill="#A8871C"/><rect x="793.8" y="912.3" width="15.6" height="10.2" fill="#2D8A50"/><rect x="793.8" y="909.9" width="15.6" height="2.8" fill="#C9524B"/><rect x="793.8" y="907.2" width="15.6" height="3" fill="#3E8A85"/><rect x="793.8" y="905.1" width="15.6" height="2.4" fill="#C4A030"/></g>
<g clip-path="url(#c42)"><rect x="811.3" y="919.9" width="15.6" height="10.4" fill="#B03A32"/><rect x="811.3" y="917.5" width="15.6" height="2.8" fill="#545A6A"/><rect x="811.3" y="914.6" width="15.6" height="3.1" fill="#2463C0"/><rect x="811.3" y="890.2" width="15.6" height="24.8" fill="#A8871C"/><rect x="811.3" y="837.5" width="15.6" height="53" fill="#2D8A50"/><rect x="811.3" y="824.8" width="15.6" height="13" fill="#C9524B"/><rect x="811.3" y="819.8" width="15.6" height="5.2" fill="#6E7484"/><rect x="811.3" y="817.2" width="15.6" height="3" fill="#3E7DDB"/><rect x="811.3" y="807.5" width="15.6" height="10" fill="#3E8A85"/><rect x="811.3" y="805.3" width="15.6" height="2.6" fill="#F7931A"/></g>
<g clip-path="url(#c43)"><rect x="828.8" y="919.9" width="15.6" height="10.4" fill="#B03A32"/><rect x="828.8" y="917.5" width="15.6" height="2.8" fill="#545A6A"/><rect x="828.8" y="915.2" width="15.6" height="2.6" fill="#B86A14"/><rect x="828.8" y="892.1" width="15.6" height="23.4" fill="#A8871C"/><rect x="828.8" y="890.2" width="15.6" height="2.2" fill="#5B46D8"/><rect x="828.8" y="854.9" width="15.6" height="35.6" fill="#2D8A50"/><rect x="828.8" y="839.9" width="15.6" height="15.3" fill="#C9524B"/><rect x="828.8" y="837.5" width="15.6" height="2.8" fill="#6E7484"/><rect x="828.8" y="835" width="15.6" height="2.8" fill="#CC8427"/><rect x="828.8" y="829.9" width="15.6" height="5.4" fill="#3E8A85"/><rect x="828.8" y="827.4" width="15.6" height="2.8" fill="#F7931A"/></g>
<g clip-path="url(#c44)"><rect x="846.2" y="917.5" width="15.6" height="12.8" fill="#B03A32"/><rect x="846.2" y="915.2" width="15.6" height="2.6" fill="#545A6A"/><rect x="846.2" y="912.3" width="15.6" height="3.1" fill="#B86A14"/><rect x="846.2" y="882" width="15.6" height="30.6" fill="#A8871C"/><rect x="846.2" y="880.1" width="15.6" height="2.2" fill="#5B46D8"/><rect x="846.2" y="835" width="15.6" height="45.4" fill="#2D8A50"/><rect x="846.2" y="819.8" width="15.6" height="15.5" fill="#C9524B"/><rect x="846.2" y="817.2" width="15.6" height="3" fill="#6E7484"/><rect x="846.2" y="815.1" width="15.6" height="2.4" fill="#3E7DDB"/><rect x="846.2" y="804.9" width="15.6" height="10.5" fill="#3E8A85"/><rect x="846.2" y="802.4" width="15.6" height="2.8" fill="#F7931A"/></g>
<g clip-path="url(#c45)"><rect x="863.7" y="915.1" width="15.6" height="15.2" fill="#B03A32"/><rect x="863.7" y="912.5" width="15.6" height="3" fill="#545A6A"/><rect x="863.7" y="909.9" width="15.6" height="2.8" fill="#2463C0"/><rect x="863.7" y="907.4" width="15.6" height="2.8" fill="#B86A14"/><rect x="863.7" y="869.9" width="15.6" height="37.7" fill="#A8871C"/><rect x="863.7" y="867.2" width="15.6" height="3" fill="#5B46D8"/><rect x="863.7" y="792.4" width="15.6" height="75.2" fill="#2D8A50"/><rect x="863.7" y="777.4" width="15.6" height="15.3" fill="#C9524B"/><rect x="863.7" y="775.2" width="15.6" height="2.5" fill="#6E7484"/><rect x="863.7" y="772.6" width="15.6" height="2.8" fill="#CC8427"/><rect x="863.7" y="765" width="15.6" height="7.9" fill="#3E8A85"/><rect x="863.7" y="762.5" width="15.6" height="2.8" fill="#F7931A"/></g>
<g clip-path="url(#c46)"><rect x="881.2" y="915.1" width="15.6" height="15.2" fill="#B03A32"/><rect x="881.2" y="912.5" width="15.6" height="3" fill="#545A6A"/><rect x="881.2" y="909.9" width="15.6" height="2.8" fill="#2463C0"/><rect x="881.2" y="907.4" width="15.6" height="2.8" fill="#B86A14"/><rect x="881.2" y="867.2" width="15.6" height="40.4" fill="#A8871C"/><rect x="881.2" y="865" width="15.6" height="2.5" fill="#5B46D8"/><rect x="881.2" y="820.1" width="15.6" height="45.2" fill="#2D8A50"/><rect x="881.2" y="804.8" width="15.6" height="15.6" fill="#C9524B"/><rect x="881.2" y="802.6" width="15.6" height="2.5" fill="#6E7484"/><rect x="881.2" y="799.9" width="15.6" height="3" fill="#CC8427"/><rect x="881.2" y="797.6" width="15.6" height="2.5" fill="#3E8A85"/><rect x="881.2" y="794.9" width="15.6" height="3" fill="#C4A030"/></g>
<g clip-path="url(#c47)"><rect x="898.7" y="923.4" width="15.6" height="6.9" fill="#B03A32"/><rect x="898.7" y="920.4" width="15.6" height="3.3" fill="#3E8A85"/></g>
<g clip-path="url(#c82)"><rect x="1510.2" y="920" width="15.6" height="10.3" fill="#0E5851"/><rect x="1510.2" y="917.8" width="15.6" height="2.4" fill="#545A6A"/><rect x="1510.2" y="910" width="15.6" height="8.1" fill="#25716C"/><rect x="1510.2" y="907.2" width="15.6" height="3.1" fill="#A8871C"/><rect x="1510.2" y="905" width="15.6" height="2.4" fill="#2D8A50"/><rect x="1510.2" y="900" width="15.6" height="5.3" fill="#C9524B"/><rect x="1510.2" y="897.9" width="15.6" height="2.4" fill="#3E8A85"/></g>
<g clip-path="url(#c83)"><rect x="1527.7" y="924.9" width="15.6" height="5.4" fill="#0D4CAC"/><rect x="1527.7" y="905" width="15.6" height="20.2" fill="#0E5851"/><rect x="1527.7" y="902.9" width="15.6" height="2.4" fill="#177435"/><rect x="1527.7" y="900" width="15.6" height="3.1" fill="#545A6A"/><rect x="1527.7" y="880.1" width="15.6" height="20.2" fill="#25716C"/><rect x="1527.7" y="872.6" width="15.6" height="7.8" fill="#A8871C"/><rect x="1527.7" y="862.8" width="15.6" height="10.1" fill="#2D8A50"/><rect x="1527.7" y="855.2" width="15.6" height="7.8" fill="#C9524B"/><rect x="1527.7" y="852.7" width="15.6" height="2.9" fill="#CC8427"/><rect x="1527.7" y="847.4" width="15.6" height="5.6" fill="#3E8A85"/><rect x="1527.7" y="845" width="15.6" height="2.7" fill="#F7931A"/></g>
<g clip-path="url(#c84)"><rect x="1545.1" y="902.5" width="15.6" height="27.8" fill="#2766c6"/><rect x="1545.1" y="900" width="15.6" height="2.7" fill="#b66b1a"/><rect x="1545.1" y="804.8" width="15.6" height="95.6" fill="#28726b"/><rect x="1545.1" y="802.6" width="15.6" height="2.4" fill="#ae8b1a"/><rect x="1545.1" y="799.8" width="15.6" height="3.1" fill="#5e4ad2"/><rect x="1545.1" y="795.1" width="15.6" height="5" fill="#318e4f"/><rect x="1545.1" y="777.7" width="15.6" height="17.7" fill="#ca544c"/><rect x="1545.1" y="772.5" width="15.6" height="5.6" fill="#6e7484"/><rect x="1545.1" y="769.9" width="15.6" height="2.9" fill="#5897f5"/><rect x="1545.1" y="650" width="15.6" height="120.2" fill="#3f8b86"/><rect x="1545.1" y="612.5" width="15.6" height="37.8" fill="#c2a136"/><rect x="1545.1" y="609.9" width="15.6" height="2.9" fill="#7560f2"/><rect x="1545.1" y="477.4" width="15.6" height="132.8" fill="#47a46a"/><rect x="1545.1" y="455" width="15.6" height="22.7" fill="#e36c65"/><rect x="1545.1" y="449.1" width="15.6" height="6.2" fill="#888e9e"/><rect x="1545.1" y="447.4" width="15.6" height="2.1" fill="#5897f5"/><rect x="1545.1" y="445.6" width="15.6" height="2.1" fill="#ffad34"/><rect x="1545.1" y="389.6" width="15.6" height="56.3" fill="#58a49f"/><rect x="1545.1" y="382.7" width="15.6" height="7.2" fill="#deba4a"/></g>
<g clip-path="url(#c85)"><rect x="1562.6" y="907.4" width="15.6" height="22.9" fill="#0D4CAC"/><rect x="1562.6" y="905" width="15.6" height="2.7" fill="#9C5100"/><rect x="1562.6" y="852.7" width="15.6" height="52.6" fill="#0E5851"/><rect x="1562.6" y="850.3" width="15.6" height="2.7" fill="#947100"/><rect x="1562.6" y="847.4" width="15.6" height="3.1" fill="#4430B8"/><rect x="1562.6" y="845" width="15.6" height="2.7" fill="#177435"/><rect x="1562.6" y="832.5" width="15.6" height="12.8" fill="#B03A32"/><rect x="1562.6" y="830.1" width="15.6" height="2.7" fill="#545A6A"/><rect x="1562.6" y="827.5" width="15.6" height="2.9" fill="#2463C0"/><rect x="1562.6" y="750" width="15.6" height="77.8" fill="#25716C"/><rect x="1562.6" y="722.6" width="15.6" height="27.7" fill="#A8871C"/><rect x="1562.6" y="720.1" width="15.6" height="2.7" fill="#5B46D8"/><rect x="1562.6" y="660" width="15.6" height="60.5" fill="#2D8A50"/><rect x="1562.6" y="645" width="15.6" height="15.2" fill="#C9524B"/><rect x="1562.6" y="642.6" width="15.6" height="2.7" fill="#6E7484"/><rect x="1562.6" y="640.1" width="15.6" height="2.9" fill="#CC8427"/><rect x="1562.6" y="617.4" width="15.6" height="22.9" fill="#3E8A85"/><rect x="1562.6" y="607.4" width="15.6" height="10.4" fill="#C4A030"/></g>
<g clip-path="url(#c86)"><rect x="1580.1" y="910" width="15.6" height="20.3" fill="#0D4CAC"/><rect x="1580.1" y="869.9" width="15.6" height="40.4" fill="#0E5851"/><rect x="1580.1" y="867.3" width="15.6" height="2.9" fill="#4430B8"/><rect x="1580.1" y="864.9" width="15.6" height="2.7" fill="#177435"/><rect x="1580.1" y="857.8" width="15.6" height="7.4" fill="#B03A32"/><rect x="1580.1" y="855" width="15.6" height="3.1" fill="#545A6A"/><rect x="1580.1" y="852.4" width="15.6" height="2.9" fill="#B86A14"/><rect x="1580.1" y="800.1" width="15.6" height="52.6" fill="#25716C"/><rect x="1580.1" y="782.7" width="15.6" height="17.7" fill="#A8871C"/><rect x="1580.1" y="780.2" width="15.6" height="2.9" fill="#5B46D8"/><rect x="1580.1" y="735.1" width="15.6" height="45.4" fill="#2D8A50"/><rect x="1580.1" y="722.6" width="15.6" height="12.8" fill="#C9524B"/><rect x="1580.1" y="720.1" width="15.6" height="2.7" fill="#6E7484"/><rect x="1580.1" y="717.7" width="15.6" height="2.7" fill="#3E7DDB"/><rect x="1580.1" y="715.2" width="15.6" height="2.9" fill="#CC8427"/><rect x="1580.1" y="702.8" width="15.6" height="12.7" fill="#3E8A85"/><rect x="1580.1" y="695" width="15.6" height="8.1" fill="#C4A030"/><rect x="1580.1" y="692.4" width="15.6" height="2.9" fill="#F7931A"/></g>
<g clip-path="url(#c87)"><rect x="1597.5" y="912.6" width="15.6" height="17.7" fill="#0D4CAC"/><rect x="1597.5" y="910" width="15.6" height="2.9" fill="#9C5100"/><rect x="1597.5" y="877.7" width="15.6" height="32.6" fill="#0E5851"/><rect x="1597.5" y="875.2" width="15.6" height="2.9" fill="#947100"/><rect x="1597.5" y="872.6" width="15.6" height="2.9" fill="#4430B8"/><rect x="1597.5" y="867.6" width="15.6" height="5.3" fill="#B03A32"/><rect x="1597.5" y="862.4" width="15.6" height="5.6" fill="#B86A14"/><rect x="1597.5" y="822.5" width="15.6" height="40.1" fill="#25716C"/><rect x="1597.5" y="800.1" width="15.6" height="22.8" fill="#A8871C"/><rect x="1597.5" y="747.4" width="15.6" height="52.9" fill="#2D8A50"/><rect x="1597.5" y="732.5" width="15.6" height="15.2" fill="#C9524B"/><rect x="1597.5" y="730.1" width="15.6" height="2.7" fill="#6E7484"/><rect x="1597.5" y="727.5" width="15.6" height="2.9" fill="#CC8427"/><rect x="1597.5" y="715.2" width="15.6" height="12.7" fill="#3E8A85"/><rect x="1597.5" y="712.6" width="15.6" height="2.9" fill="#C4A030"/><rect x="1597.5" y="709.9" width="15.6" height="3" fill="#F7931A"/></g>
<g clip-path="url(#c88)"><rect x="1615" y="907.4" width="15.6" height="22.9" fill="#0D4CAC"/><rect x="1615" y="872.6" width="15.6" height="35.1" fill="#0E5851"/><rect x="1615" y="870.2" width="15.6" height="2.7" fill="#947100"/><rect x="1615" y="867.6" width="15.6" height="2.9" fill="#4430B8"/><rect x="1615" y="862.8" width="15.6" height="5.1" fill="#B03A32"/><rect x="1615" y="860.2" width="15.6" height="2.9" fill="#B86A14"/><rect x="1615" y="820" width="15.6" height="40.6" fill="#25716C"/><rect x="1615" y="802.6" width="15.6" height="17.7" fill="#A8871C"/><rect x="1615" y="797.4" width="15.6" height="5.6" fill="#5B46D8"/><rect x="1615" y="757.4" width="15.6" height="40.3" fill="#2D8A50"/><rect x="1615" y="740" width="15.6" height="17.6" fill="#C9524B"/><rect x="1615" y="737.5" width="15.6" height="2.9" fill="#6E7484"/><rect x="1615" y="735.1" width="15.6" height="2.7" fill="#3E7DDB"/><rect x="1615" y="720.1" width="15.6" height="15.2" fill="#3E8A85"/><rect x="1615" y="715.2" width="15.6" height="5.3" fill="#C4A030"/></g>
<!-- axis line -->
<rect x="76" y="927.6" width="1555" height="2.6" fill="#0a2540"/>
<!-- watermark -->
<g>
<rect x="699.1" y="711.1" width="85" height="84.4" rx="7" fill="#000" fill-opacity="0.1"/>
<g fill="#fff" fill-opacity="0.2">
<path d="M741.8 725.3H764.6V781.5H753.2V770.8H730.4V781.5H719.3V747.8H730.4V758.8H753.2V736.6H741.8Z"/>
<rect x="730.7" y="736.6" width="8.6" height="11.2"/>
</g>
<text x="804.3" y="777.3" font-family="Liberation Sans, sans-serif" font-weight="700" font-size="68" fill="#000" fill-opacity="0.09">Artemis</text>
</g>
<!-- legend swatches -->
<rect x="41.1" y="1002.2" width="29.9" height="30.5" rx="5" fill="#F7931A"/>
<rect x="526.1" y="1002.2" width="29.9" height="30.5" rx="5" fill="#C4A030"/>
<rect x="1011.1" y="1002.2" width="29.9" height="30.5" rx="5" fill="#3E8A85"/>
<rect x="41.1" y="1047.2" width="29.9" height="30.5" rx="5" fill="#CC8427"/>
<rect x="526.1" y="1047.2" width="29.9" height="30.5" rx="5" fill="#3E7DDB"/>
<rect x="1011.1" y="1047.2" width="29.9" height="30.5" rx="5" fill="#6E7484"/>
<rect x="41.1" y="1092.2" width="29.9" height="30.5" rx="5" fill="#C9524B"/>
<rect x="526.1" y="1092.2" width="29.9" height="30.5" rx="5" fill="#2D8A50"/>
<rect x="1011.1" y="1092.2" width="29.9" height="30.5" rx="5" fill="#5B46D8"/>
<rect x="41.1" y="1137.2" width="29.9" height="30.5" rx="5" fill="#A8871C"/>
<rect x="526.1" y="1137.2" width="29.9" height="30.5" rx="5" fill="#25716C"/>
<rect x="1011.1" y="1137.2" width="29.9" height="30.5" rx="5" fill="#B86A14"/>
<rect x="41.1" y="1182.2" width="29.9" height="30.5" rx="5" fill="#2463C0"/>
<rect x="526.1" y="1182.2" width="29.9" height="30.5" rx="5" fill="#545A6A"/>
<rect x="1011.1" y="1182.2" width="29.9" height="30.5" rx="5" fill="#B03A32"/>
<rect x="41.1" y="1227.2" width="29.9" height="30.5" rx="5" fill="#177435"/>
<rect x="526.1" y="1227.2" width="29.9" height="30.5" rx="5" fill="#4430B8"/>
<rect x="1011.1" y="1227.2" width="29.9" height="30.5" rx="5" fill="#947100"/>
<rect x="41.1" y="1272.2" width="29.9" height="30.5" rx="5" fill="#0E5851"/>
<rect x="526.1" y="1272.2" width="29.9" height="30.5" rx="5" fill="#9C5100"/>
<rect x="1011.1" y="1272.2" width="29.9" height="30.5" rx="5" fill="#0D4CAC"/>
<!-- axis labels -->
<g font-family="Liberation Sans, sans-serif" font-size="27.3" fill="#0a2540">
<text x="1646.8" y="352.7">$6B</text>
<text x="1646.8" y="547.4">$4B</text>
<text x="1646.8" y="742.2">$2B</text>
<text x="1646.8" y="939.2">$0</text>
<text x="392.2" y="970.3" text-anchor="middle">Jan 15, '26</text>
<text x="699.9" y="970.3" text-anchor="middle">Feb 2, '26</text>
</g>
</svg>

<div class="tt">
<div class="hd">Mar 23, '26</div>
<div class="rows">
<div class="tr"><i style="background:#2D8A50"></i><span class="n">SILVER - Perpetuals Volume</span><b>$1.3B</b></div>
<div class="tr"><i style="background:#25716C"></i><span class="n">CL - Perpetuals Volume</span><b>$1.2B</b></div>
<div class="tr"><i style="background:#0E5851"></i><span class="n">BRENTOIL - Perpetuals Volume</span><b>$953.5M</b></div>
<div class="tr"><i style="background:#3E8A85"></i><span class="n">GOLD - Perpetuals Volume</span><b>$572.2M</b></div>
<div class="tr"><i style="background:#A8871C"></i><span class="n">XYZ100 - Perpetuals Volume</span><b>$379.6M</b></div>
<div class="tr"><i style="background:#0D4CAC"></i><span class="n">SP500 - Perpetuals Volume</span><b>$290.7M</b></div>
<div class="tr"><i style="background:#C9524B"></i><span class="n">Other - Perpetuals Volume</span><b>$241.9M</b></div>
<div class="tr"><i style="background:#B03A32"></i><span class="n">USA500 - Perpetuals Volume</span><b>$165.0M</b></div>
<div class="tr"><i style="background:#C4A030"></i><span class="n">CRCL - Perpetuals Volume</span><b>$62.4M</b></div>
<div class="tr"><i style="background:#177435"></i><span class="n">NATGAS - Perpetuals Volume</span><b>$55.1M</b></div>
<div class="tr"><i style="background:#545A6A"></i><span class="n">COPPER - Perpetuals Volume</span><b>$46.7M</b></div>
<div class="tr"><i style="background:#4430B8"></i><span class="n">PLATINUM - Perpetuals Volume</span><b>$44.3M</b></div>
<div class="tr"><i style="background:#6E7484"></i><span class="n">NVDA - Perpetuals Volume</span><b>$44.1M</b></div>
<div class="tr"><i style="background:#5B46D8"></i><span class="n">TSLA - Perpetuals Volume</span><b>$33.7M</b></div>
<div class="tr"><i style="background:#947100"></i><span class="n">EWY - Perpetuals Volume</span><b>$25.7M</b></div>
<div class="tr"><i style="background:#3E7DDB"></i><span class="n">INTC - Perpetuals Volume</span><b>$25.2M</b></div>
<div class="tr"><i style="background:#9C5100"></i><span class="n">WTI - Perpetuals Volume</span><b>$20.9M</b></div>
<div class="tr"><i style="background:#CC8427"></i><span class="n">HOOD - Perpetuals Volume</span><b>$20.7M</b></div>
<div class="tr"><i style="background:#2463C0"></i><span class="n">US500 - Perpetuals Volume</span><b>$19.6M</b></div>
<div class="tr"><i style="background:#F7931A"></i><span class="n">Bitcoin - Perpetuals Volume</span><b>$18.8M</b></div>
<div class="tr"><i style="background:#B86A14"></i><span class="n">SNDK - Perpetuals Volume</span><b>$17.7M</b></div>
<div class="tr tot"><span class="n">Total</span><b>$5.6B</b></div>
</div>
</div>
</div>
</body>
</html>
